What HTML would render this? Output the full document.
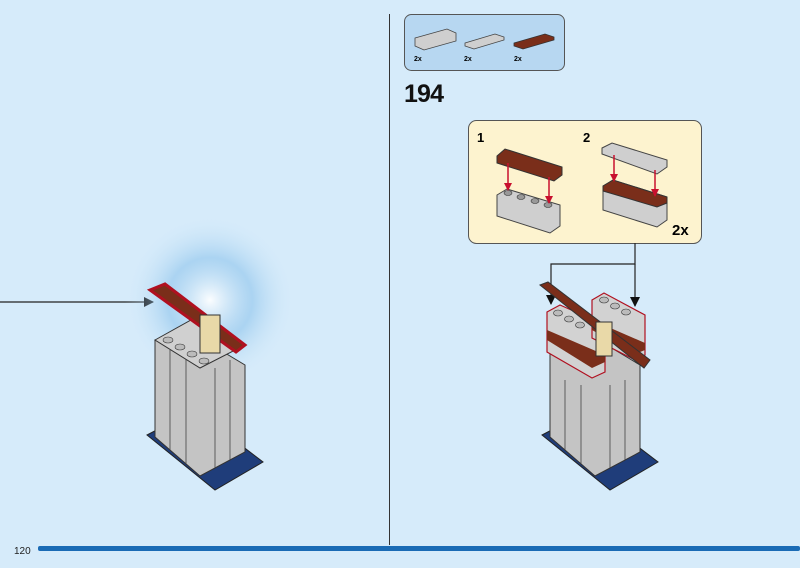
<!DOCTYPE html>
<html><head><style>
html,body{margin:0;padding:0;background:#d6ebfa;}
svg{display:block;font-family:"Liberation Sans",sans-serif;}
</style></head><body>
<svg width="800" height="568" viewBox="0 0 800 568">
<defs>
<marker id="ah" markerWidth="10" markerHeight="10" refX="9" refY="5" orient="auto" markerUnits="userSpaceOnUse"><path d="M0,0 L10,5 L0,10 z" fill="#111"/></marker>
<marker id="ra" markerWidth="8" markerHeight="8" refX="7" refY="4" orient="auto" markerUnits="userSpaceOnUse"><path d="M0,0 L8,4 L0,8 z" fill="#c8102e"/></marker>
<radialGradient id="burst" cx="0.5" cy="0.5" r="0.5"><stop offset="0" stop-color="#fff" stop-opacity="0.9"/><stop offset="0.5" stop-color="#8ec4ec" stop-opacity="0.6"/><stop offset="1" stop-color="#d6ebfa" stop-opacity="0"/></radialGradient>
</defs>
<rect width="800" height="568" fill="#d6ebfa"/>
<line x1="389.5" y1="14" x2="389.5" y2="545" stroke="#333" stroke-width="1"/>
<rect x="38" y="546" width="762" height="5" fill="#1a6bb5" rx="2"/>
<text x="14" y="554" font-size="10" fill="#222">120</text>

<!-- parts box -->
<rect x="404.5" y="14.5" width="160" height="56" rx="7" fill="#b7d7f1" stroke="#555"/>
<polygon points="415,38 447,29 456,33 456,41 424,50 415,46" fill="#cfcfcf" stroke="#444" stroke-width="0.8"/>
<polygon points="465,43 495,34 504,37 504,40 474,49 465,46" fill="#cfcfcf" stroke="#444" stroke-width="0.8"/>
<polygon points="514,43 545,34 554,37 554,40 523,49 514,46" fill="#7a2e1a" stroke="#333" stroke-width="0.8"/>
<text x="414" y="61" font-size="7" font-weight="bold">2x</text>
<text x="464" y="61" font-size="7" font-weight="bold">2x</text>
<text x="514" y="61" font-size="7" font-weight="bold">2x</text>
<text x="404" y="102" font-size="25" font-weight="bold" fill="#111" textLength="40">194</text>

<!-- callout -->
<rect x="468.5" y="120.5" width="233" height="123" rx="8" fill="#fdf3cf" stroke="#555"/>
<text x="477" y="142" font-size="13" font-weight="bold">1</text>
<text x="583" y="142" font-size="13" font-weight="bold">2</text>
<text x="672" y="235" font-size="15" font-weight="bold">2x</text>
<polygon points="497,156 505,149 562,167 562,175 554,181 497,163" fill="#7a2e1a" stroke="#333"/>
<polygon points="497,195 507,189 560,205 560,226 550,233 497,216" fill="#cfcfcf" stroke="#444"/>
<g fill="#999" stroke="#333" stroke-width="0.6"><ellipse cx="508" cy="193" rx="4" ry="2.5"/><ellipse cx="521" cy="197" rx="4" ry="2.5"/><ellipse cx="535" cy="201" rx="4" ry="2.5"/><ellipse cx="548" cy="205" rx="4" ry="2.5"/></g>
<line x1="508" y1="163" x2="508" y2="190" stroke="#c8102e" stroke-width="1.5" marker-end="url(#ra)"/>
<line x1="549" y1="177" x2="549" y2="203" stroke="#c8102e" stroke-width="1.5" marker-end="url(#ra)"/>
<polygon points="602,148 612,143 667,160 667,167 657,174 602,154" fill="#cfcfcf" stroke="#444"/>
<polygon points="603,186 613,180 667,197 667,220 657,227 603,210" fill="#cfcfcf" stroke="#444"/>
<polygon points="603,186 613,180 667,197 667,203 657,207 603,191" fill="#7a2e1a" stroke="#333"/>
<line x1="614" y1="155" x2="614" y2="181" stroke="#c8102e" stroke-width="1.5" marker-end="url(#ra)"/>
<line x1="655" y1="170" x2="655" y2="196" stroke="#c8102e" stroke-width="1.5" marker-end="url(#ra)"/>

<!-- connectors -->
<polyline points="635,243 635,264 551,264 551,304" fill="none" stroke="#222" stroke-width="1.2" marker-end="url(#ah)"/>
<line x1="635" y1="264" x2="635" y2="306" stroke="#222" stroke-width="1.2" marker-end="url(#ah)"/>
<line x1="0" y1="302" x2="153" y2="302" stroke="#222" stroke-width="1.2" marker-end="url(#ah)"/>

<!-- left model -->
<circle cx="210" cy="300" r="85" fill="url(#burst)"/>
<polygon points="147,435 215,490 263,462 195,410" fill="#1f3d7a" stroke="#222"/>
<polygon points="155,340 155,437 200,476 245,452 245,365 200,338" fill="#c4c4c4" stroke="#333"/>
<g stroke="#444" stroke-width="0.8"><line x1="170" y1="350" x2="170" y2="450"/><line x1="186" y1="358" x2="186" y2="464"/><line x1="215" y1="368" x2="215" y2="468"/><line x1="230" y1="360" x2="230" y2="460"/></g>
<polygon points="155,340 200,315 245,345 200,368" fill="#d0d0d0" stroke="#333"/>
<g fill="#bbb" stroke="#333" stroke-width="0.6"><ellipse cx="168" cy="340" rx="5" ry="3"/><ellipse cx="180" cy="347" rx="5" ry="3"/><ellipse cx="192" cy="354" rx="5" ry="3"/><ellipse cx="204" cy="361" rx="5" ry="3"/></g>
<polygon points="150,290 165,284 245,345 236,352" fill="#7a2e1a" stroke="#b01020" stroke-width="3"/>
<rect x="200" y="315" width="20" height="38" fill="#e9d9a8" stroke="#333"/>

<!-- right model -->
<polygon points="542,435 610,490 658,462 590,410" fill="#1f3d7a" stroke="#222"/>
<polygon points="550,340 550,437 595,476 640,452 640,365 595,338" fill="#c4c4c4" stroke="#333"/>
<g stroke="#444" stroke-width="0.8"><line x1="565" y1="380" x2="565" y2="450"/><line x1="581" y1="385" x2="581" y2="464"/><line x1="610" y1="385" x2="610" y2="468"/><line x1="625" y1="380" x2="625" y2="460"/></g>
<polygon points="547,312 560,305 605,325 605,372 592,378 547,352" fill="#d2d2d2" stroke="#b01020" stroke-width="1.2"/>
<polygon points="547,330 605,355 605,362 592,368 547,340" fill="#7a2e1a"/>
<polygon points="592,300 604,293 645,315 645,355 635,360 592,338" fill="#d2d2d2" stroke="#b01020" stroke-width="1.2"/>
<polygon points="592,320 645,343 645,350 635,354 592,330" fill="#7a2e1a"/>
<g fill="#bbb" stroke="#333" stroke-width="0.6"><ellipse cx="558" cy="313" rx="4.5" ry="3"/><ellipse cx="569" cy="319" rx="4.5" ry="3"/><ellipse cx="580" cy="325" rx="4.5" ry="3"/><ellipse cx="604" cy="300" rx="4.5" ry="3"/><ellipse cx="615" cy="306" rx="4.5" ry="3"/><ellipse cx="626" cy="312" rx="4.5" ry="3"/></g>
<polygon points="540,285 548,282 650,360 644,368" fill="#7a2e1a" stroke="#333"/>
<rect x="596" y="322" width="16" height="34" fill="#e9d9a8" stroke="#333"/>
</svg>
</body></html>
